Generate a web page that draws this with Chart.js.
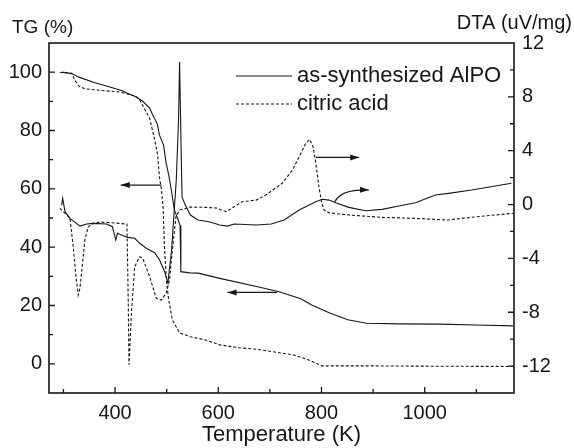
<!DOCTYPE html>
<html>
<head>
<meta charset="utf-8">
<script src="https://cdn.jsdelivr.net/npm/chart.js@4.4.1/dist/chart.umd.min.js"></script>
<style>
  html, body { margin: 0; padding: 0; background: #fff; }
  #wrap { width: 574px; height: 448px; }
</style>
</head>
<body>
<div id="wrap"><canvas id="chart" width="574" height="448"></canvas></div>
<script>
// axis ticks
const xTicks = [400, 600, 800, 1000];
const tgTicks = [0, 20, 40, 60, 80, 100];
const dtaTicks = [-12, -8, -4, 0, 4, 8, 12];
const seriesNames = ['as-synthesized AlPO', 'citric acid'];

// TG (%) of as-synthesized AlPO
const tgAlpoK = [297, 316, 330, 361, 390, 411, 440, 453, 467, 473, 482, 486, 494, 499, 504, 509, 515, 521, 526, 527.5, 545, 561, 603, 674, 716, 760, 781, 816, 851, 887, 950, 1029, 1100, 1171];
const tgAlpo = [100, 99.5, 98.3, 96.4, 94.9, 93.8, 91.6, 90.1, 87.7, 85.3, 82.2, 78.4, 75.0, 68.8, 64.7, 59.6, 52.7, 50.0, 47.4, 31.6, 31.2, 31.1, 29.3, 26.5, 24.8, 22.3, 20.2, 17.4, 15.1, 13.9, 13.7, 13.6, 13.3, 13.0];

// TG (%) of citric acid
const tgCitricK = [293, 316, 322, 330, 341.5, 370, 409, 440, 448, 467, 477, 482.5, 486, 490, 493, 496, 500, 504, 511, 525, 546, 575, 603, 641, 674, 745, 774, 802, 887, 1000, 1171];
const tgCitric = [99.9, 99.6, 97.3, 95.2, 94.3, 93.8, 93.2, 91.8, 90.4, 84.2, 76.7, 71.6, 64.0, 59.6, 53.8, 39.0, 27.7, 21.9, 15.1, 10.6, 9.3, 8.2, 6.5, 5.5, 5.0, 3.1, 1.4, -0.7, -0.7, -0.8, -0.9];

// DTA (uV/mg) of as-synthesized AlPO
const dtaAlpoK = [296.5, 298.5, 303, 312.5, 332, 345, 357.5, 383.4, 395, 401.4, 404.7, 415.5, 425, 438, 447.7, 460.7, 476.7, 486.3, 496, 502.4, 509.5, 518.6, 523, 525, 528, 529.8, 536, 546, 560.7, 582, 603, 617.6, 631, 673.6, 702.6, 727.7, 756.7, 789, 801.7, 814.6, 827.5, 853, 885.5, 917.5, 949.8, 982, 1020.6, 1046, 1091, 1168];
const dtaAlpo = [-0.04, 0.46, -0.53, -1.03, -1.60, -1.45, -1.40, -1.45, -1.65, -2.64, -2.14, -2.32, -2.44, -2.51, -2.88, -3.25, -3.58, -4.12, -4.99, -5.83, -3.38, 1.82, 6.28, 10.59, 4.05, 0.56, -0.04, -0.78, -1.15, -1.28, -1.52, -1.60, -1.45, -1.52, -1.45, -1.15, -0.41, 0.21, 0.39, 0.33, 0.13, -0.21, -0.46, -0.36, -0.11, 0.13, 0.71, 0.83, 1.08, 1.58];

// DTA (uV/mg) of citric acid
const dtaCitricK = [293, 303, 312.5, 319, 324, 328.6, 332, 335, 341.5, 348, 357.5, 370.5, 393, 423, 425.5, 427, 431.7, 438, 447.7, 453.5, 467, 480, 489.6, 499, 505.6, 511, 518, 525, 546, 575, 596.4, 606, 615.7, 631, 646, 673.6, 692, 724, 743.7, 760, 769.6, 777, 783.7, 789, 795, 800.6, 805, 814.6, 853, 917, 982, 1043.4, 1100, 1171];
const dtaCitric = [-0.28, -0.65, -1.0, -3.14, -5.24, -6.72, -6.2, -5.11, -2.64, -1.65, -1.40, -1.30, -1.35, -1.45, -7.1, -11.9, -8.06, -4.62, -3.88, -3.97, -5.36, -6.97, -7.10, -6.58, -5.61, -3.38, -0.91, -0.41, -0.19, -0.21, -0.26, -0.41, -0.53, -0.16, 0.21, 0.33, 0.71, 1.58, 2.56, 3.80, 4.55, 4.84, 4.29, 3.06, 1.32, 0.09, -0.41, -0.61, -0.78, -0.95, -1.03, -1.15, -0.91, -0.65];

// arrows pointing at the axis each curve belongs to (data units)
const arrows = [
  { axis: 'yTG', from: [490, 61.3], to: [411, 61.3] },
  { axis: 'yDTA', from: [789, 3.5], to: [873, 3.5] },
  { axis: 'yDTA', from: [826, 0.21], via: [838, 1.15], to: [892, 1.08] },
  { axis: 'yTG', from: [714, 24.5], to: [618, 24.5] }
];

const ink = '#161616';
const dash = [3, 2];
const fontFamily = '"Liberation Sans", Arial, sans-serif';

function toPoints(xs, ys) {
  return xs.map((x, i) => ({ x: x, y: ys[i] }));
}

function makeSet(label, xs, ys, axis, dashed) {
  return {
    label: label,
    data: toPoints(xs, ys),
    yAxisID: axis,
    borderColor: ink,
    borderWidth: 1.1,
    borderDash: dashed ? dash : [],
    pointRadius: 0,
    tension: 0,
    fill: false
  };
}

function drawArrowHead(ctx, x, y, dx, dy) {
  const len = Math.hypot(dx, dy) || 1;
  const ux = dx / len, uy = dy / len;
  const L = 9, W = 3;
  ctx.beginPath();
  ctx.moveTo(x, y);
  ctx.lineTo(x - ux * L - uy * W, y - uy * L + ux * W);
  ctx.lineTo(x - ux * L + uy * W, y - uy * L - ux * W);
  ctx.closePath();
  ctx.fill();
}

const decor = {
  id: 'decor',
  afterDraw(chart) {
    const ctx = chart.ctx;
    const a = chart.chartArea;
    const sx = chart.scales.x;
    const sl = chart.scales.yTG;
    const sr = chart.scales.yDTA;
    ctx.save();
    ctx.strokeStyle = ink;
    ctx.fillStyle = ink;

    // frame
    ctx.lineWidth = 1.6;
    ctx.strokeRect(a.left, a.top, a.right - a.left, a.bottom - a.top);

    // inward ticks
    ctx.lineWidth = 1.3;
    ctx.beginPath();
    for (let v = 300; v <= 1100; v += 100) {
      const px = sx.getPixelForValue(v);
      const len = v % 200 === 0 ? 6 : 4;
      ctx.moveTo(px, a.bottom); ctx.lineTo(px, a.bottom - len);
    }
    for (let v = 0; v <= 100; v += 10) {
      const py = sl.getPixelForValue(v);
      const len = v % 20 === 0 ? 6 : 4;
      ctx.moveTo(a.left, py); ctx.lineTo(a.left + len, py);
    }
    for (let v = -12; v <= 10; v += 2) {
      const py = sr.getPixelForValue(v);
      const len = v % 4 === 0 ? 6 : 4;
      ctx.moveTo(a.right, py); ctx.lineTo(a.right - len, py);
    }
    ctx.stroke();

    // axis titles at the top corners
    ctx.font = '19px ' + fontFamily;
    ctx.textBaseline = 'alphabetic';
    ctx.textAlign = 'left';
    ctx.fillText('TG (%)', 12, 33);
    ctx.textAlign = 'right';
    ctx.font = '20px ' + fontFamily;
    ctx.fillText('DTA (uV/mg)', 572, 29);

    // legend
    ctx.lineWidth = 1.1;
    ctx.beginPath();
    ctx.moveTo(236, 76); ctx.lineTo(292, 76);
    ctx.stroke();
    ctx.setLineDash(dash);
    ctx.beginPath();
    ctx.moveTo(236, 104); ctx.lineTo(292, 104);
    ctx.stroke();
    ctx.setLineDash([]);
    ctx.font = '22px ' + fontFamily;
    ctx.textAlign = 'left';
    ctx.textBaseline = 'middle';
    ctx.fillText(seriesNames[0], 297, 76);
    ctx.fillText(seriesNames[1], 297, 104);

    // arrows
    ctx.lineWidth = 1.2;
    arrows.forEach(ar => {
      const ys = chart.scales[ar.axis];
      const x0 = sx.getPixelForValue(ar.from[0]), y0 = ys.getPixelForValue(ar.from[1]);
      const x1 = sx.getPixelForValue(ar.to[0]), y1 = ys.getPixelForValue(ar.to[1]);
      ctx.beginPath();
      ctx.moveTo(x0, y0);
      let cx = x0, cy = y0;
      if (ar.via) {
        cx = sx.getPixelForValue(ar.via[0]);
        cy = ys.getPixelForValue(ar.via[1]);
        ctx.quadraticCurveTo(cx, cy, x1, y1);
      } else {
        ctx.lineTo(x1, y1);
      }
      ctx.stroke();
      drawArrowHead(ctx, x1, y1, x1 - cx, y1 - cy);
    });
    ctx.restore();
  }
};

const tickFont = { family: fontFamily, size: 20 };

new Chart(document.getElementById('chart'), {
  type: 'line',
  data: {
    datasets: [
      makeSet(seriesNames[0], tgAlpoK, tgAlpo, 'yTG', false),
      makeSet(seriesNames[1], tgCitricK, tgCitric, 'yTG', true),
      makeSet(seriesNames[0], dtaAlpoK, dtaAlpo, 'yDTA', false),
      makeSet(seriesNames[1], dtaCitricK, dtaCitric, 'yDTA', true)
    ]
  },
  options: {
    responsive: false,
    animation: false,
    devicePixelRatio: 1,
    layout: { padding: { top: 43, left: 0, right: 0, bottom: 0 } },
    plugins: { legend: { display: false }, tooltip: { enabled: false } },
    scales: {
      x: {
        type: 'linear',
        position: 'bottom',
        min: 272,
        max: 1173,
        grid: { display: false, drawTicks: false },
        border: { display: false },
        afterBuildTicks: s => { s.ticks = xTicks.map(v => ({ value: v })); },
        afterFit: s => { s.height = 55; },
        ticks: { font: tickFont, color: ink, padding: 8, maxRotation: 0, callback: v => String(v) },
        title: { display: true, text: 'Temperature (K)', font: { family: fontFamily, size: 22 }, color: ink, padding: 0 }
      },
      yTG: {
        type: 'linear',
        position: 'left',
        min: -10,
        max: 110,
        grid: { display: false, drawTicks: false },
        border: { display: false },
        afterBuildTicks: s => { s.ticks = tgTicks.map(v => ({ value: v })); },
        afterFit: s => { s.width = 49; },
        ticks: { font: tickFont, color: ink, padding: 7, callback: v => String(v) }
      },
      yDTA: {
        type: 'linear',
        position: 'right',
        min: -14,
        max: 12,
        grid: { display: false, drawTicks: false },
        border: { display: false },
        afterBuildTicks: s => { s.ticks = dtaTicks.map(v => ({ value: v })); },
        afterFit: s => { s.width = 60; },
        ticks: { font: tickFont, color: ink, padding: 8, callback: v => String(v) }
      }
    }
  },
  plugins: [decor]
});
</script>
</body>
</html>
